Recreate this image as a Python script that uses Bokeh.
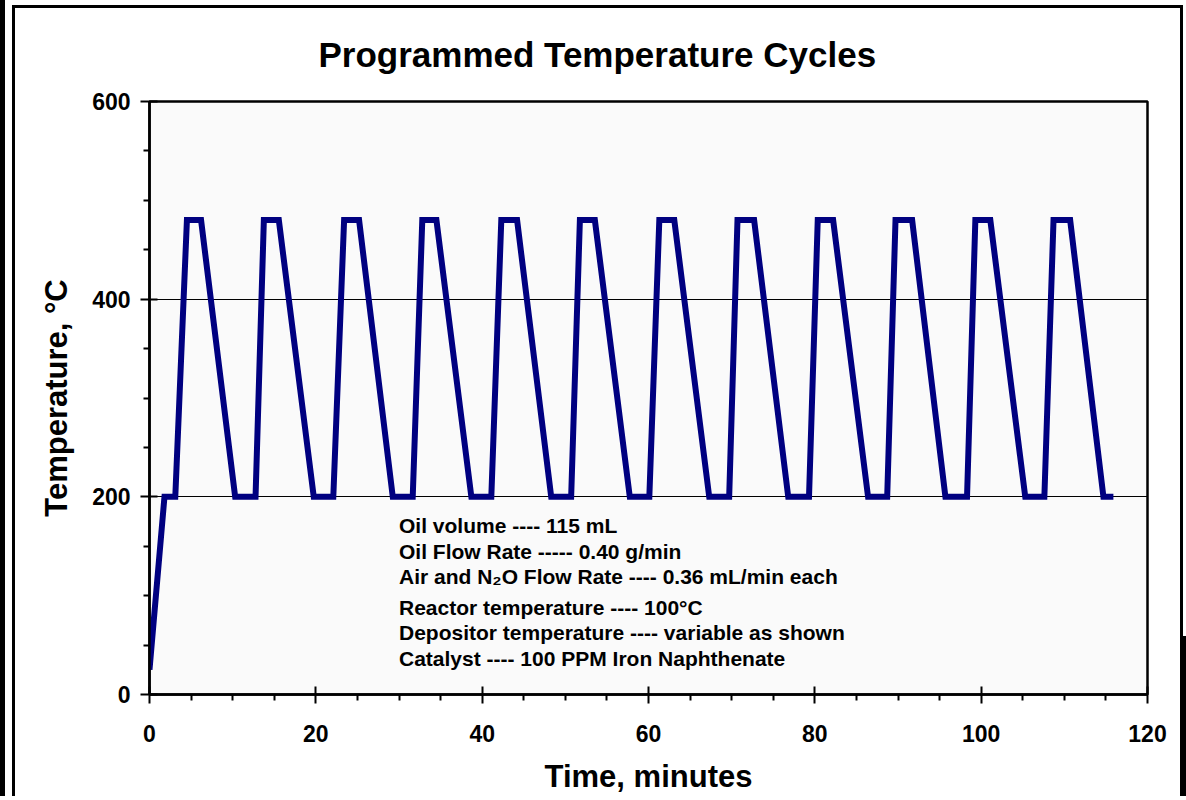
from bokeh.plotting import figure
from bokeh.models import Range1d, FixedTicker
from bokeh.core.properties import value
from bokeh.embed import file_html
from bokeh.resources import INLINE

# ---------------- data ----------------
time_min = [0, 1.8,
            3.1, 4.5, 6.2, 10.3,
            12.75, 13.75, 15.55, 19.75,
            22.1, 23.4, 25.2, 29.25,
            31.65, 32.8, 34.5, 38.7,
            41.1, 42.3, 44.2, 48.3,
            50.7, 51.75, 53.55, 57.75,
            60.1, 61.3, 63.1, 67.3,
            69.7, 70.7, 72.7, 76.8,
            79.3, 80.35, 82.2, 86.4,
            88.7, 89.7, 91.7, 95.7,
            98.3, 99.3, 101.1, 105.3,
            107.6, 108.7, 110.7, 114.7,
            115.9]
temp_c = [25, 200,
          200, 480, 480, 200,
          200, 480, 480, 200,
          200, 480, 480, 200,
          200, 480, 480, 200,
          200, 480, 480, 200,
          200, 480, 480, 200,
          200, 480, 480, 200,
          200, 480, 480, 200,
          200, 480, 480, 200,
          200, 480, 480, 200,
          200, 480, 480, 200,
          200, 480, 480, 200,
          200]

x_ticks = [0, 20, 40, 60, 80, 100, 120]
y_ticks = [0, 200, 400, 600]

title_text = "Programmed Temperature Cycles"
x_label = "Time, minutes"
y_label = "Temperature, \u00b0C"
notes = [
    "Oil volume ---- 115 mL",
    "Oil Flow Rate ----- 0.40 g/min",
    "Air and N\u2082O Flow Rate ---- 0.36 mL/min each",
    "Reactor temperature ---- 100\u00b0C",
    "Depositor temperature ---- variable as shown",
    "Catalyst ---- 100 PPM Iron Naphthenate",
]

FONT = "Liberation Sans"

# chart-area frame lines drawn behind the (transparent) canvas border area
page_bg = ", ".join([
    "linear-gradient(#000,#000) 0px 0px / 5px 100% no-repeat",
    "linear-gradient(#000,#000) 12px 5px / 3px 100% no-repeat",
    "linear-gradient(#000,#000) 12px 5px / 1171px 3px no-repeat",
    "linear-gradient(#000,#000) 1180px 5px / 3px 100% no-repeat",
    "linear-gradient(#000,#000) 1181px 636px / 5px 100% no-repeat",
    "#ffffff",
])

p = figure(width=1186, height=796,
           x_range=Range1d(0, 120), y_range=Range1d(0, 600),
           output_backend="svg", toolbar_location=None,
           min_border_left=149, min_border_right=39,
           min_border_top=101, min_border_bottom=102,
           background_fill_color="#FAFAFA", border_fill_color=None,
           outline_line_color="black", outline_line_width=2.5,
           styles={"background": page_bg})

p.line(time_min, temp_c, line_color="#000080", line_width=6, line_join="miter")

# axes
minor_x = [v for v in range(0, 121, 5) if v % 20]
minor_y = [v for v in range(0, 601, 50) if v % 200]
p.xaxis.ticker = FixedTicker(ticks=x_ticks, minor_ticks=minor_x)
p.yaxis.ticker = FixedTicker(ticks=y_ticks, minor_ticks=minor_y)

for ax in (p.xaxis[0], p.yaxis[0]):
    ax.axis_line_width = 2.5
    ax.axis_line_color = "black"
    ax.major_tick_in = 8
    ax.major_tick_out = 9
    ax.major_tick_line_width = 2
    ax.minor_tick_in = 0
    ax.minor_tick_out = 6
    ax.minor_tick_line_width = 2
    ax.major_label_text_font = FONT
    ax.major_label_text_font_style = "bold"
    ax.major_label_text_font_size = "23px"
    ax.major_label_text_color = "black"
    ax.axis_label_text_font = FONT
    ax.axis_label_text_font_style = "bold"
    ax.axis_label_text_font_size = "31px"
    ax.axis_label_text_color = "black"

p.xaxis.axis_label = x_label
p.yaxis.axis_label = y_label
p.xaxis.major_label_standoff = 21
p.yaxis.major_label_standoff = 10
p.xaxis.axis_label_standoff = 14
p.yaxis.axis_label_standoff = 15

p.xgrid.visible = False
p.ygrid.grid_line_color = "black"
p.ygrid.grid_line_width = 1

# title
p.title.text = title_text
p.title.align = "left"
p.title.offset = 169
p.title.standoff = 56
p.title.text_font = FONT
p.title.text_font_style = "bold"
p.title.text_font_size = "35px"
p.title.text_color = "black"

# note block
y0 = 170.5
ys = []
for i, _ in enumerate(notes):
    off = i * 25.3 + (5.5 if i >= 3 else 0)
    ys.append(y0 - off / 0.988)
p.text(x=[30] * len(notes), y=ys, text=notes, text_font=value(FONT),
       text_font_style="bold", text_font_size="21px", text_color="black",
       text_align="left", text_baseline="middle")

open("out.html", "w").write(file_html(p, INLINE))
